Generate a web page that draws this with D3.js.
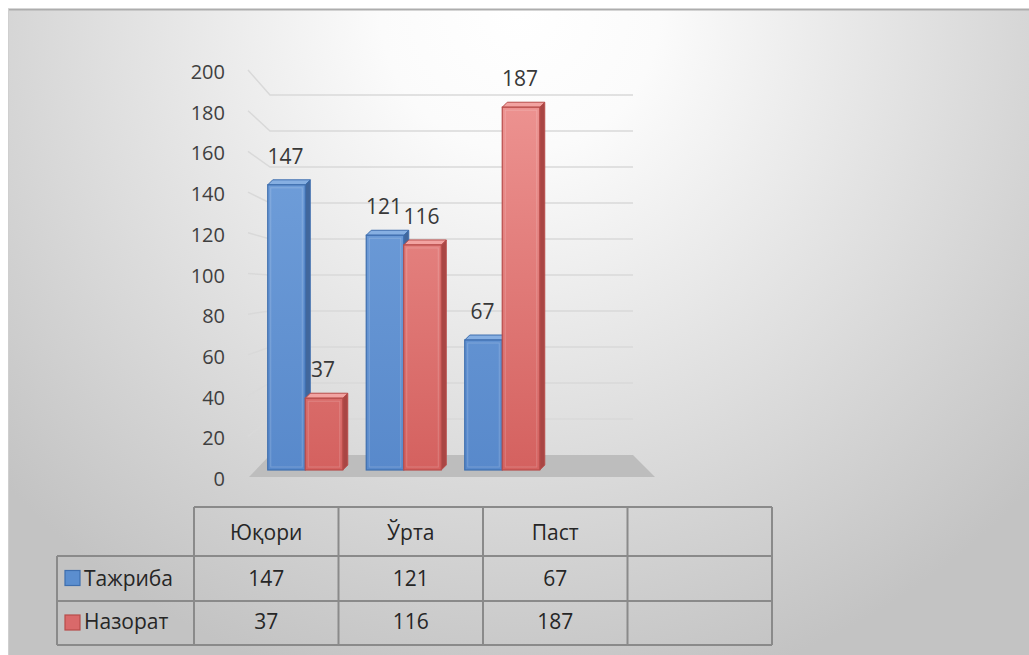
<!DOCTYPE html>
<html><head><meta charset="utf-8">
<script src="https://cdn.jsdelivr.net/npm/d3@7"></script>
<style>
body{margin:0;background:#fff;}
svg{display:block;font-family:"Open Sans","Noto Sans",sans-serif;}
</style>
</head><body>
<svg id="c" width="1029" height="655"></svg>
<script>
// ---- data ----
const categories = ["Юқори", "Ўрта", "Паст", ""];
const seriesNames = ["Тажриба", "Назорат"];
const tajriba = [147, 121, 67, null];
const nazorat = [37, 116, 187, null];
const yTicks = [0, 20, 40, 60, 80, 100, 120, 140, 160, 180, 200];

// ---- styles ----
const seriesStyle = {
  "Тажриба": {id: "gb", light: "#75a3dd", dark: "#5889cb", key: "#5b8ecf", stroke: "#3e6eae", side: "#41679c", top: "#86afe2"},
  "Назорат": {id: "gr", light: "#ee9593", dark: "#d4615f", key: "#d9696a", stroke: "#b84c4a", side: "#a94644", top: "#f2a3a1"}
};
const seriesValues = {"Тажриба": tajriba, "Назорат": nazorat};

const svg = d3.select("#c");
const defs = svg.append("defs");
const rg = defs.append("radialGradient").attr("id", "bg")
  .attr("gradientUnits", "userSpaceOnUse")
  .attr("cx", 520).attr("cy", 10).attr("r", 700);
rg.append("stop").attr("offset", 0).attr("stop-color", "#ffffff");
rg.append("stop").attr("offset", 0.2).attr("stop-color", "#fbfbfb");
rg.append("stop").attr("offset", 1).attr("stop-color", "#c3c3c3");

// ---- scales ----
const yBar = d3.scaleLinear().domain([0, 200]).range([470, 82]);
const yBack = d3.scaleLinear().domain([0, 200]).range([455, 95]);
const yFront = d3.scaleLinear().domain([0, 200]).range([477, 70]);
const xBand = d3.scaleBand().domain(categories).range([256, 650]).padding(0);
const xInner = d3.scaleBand().domain(seriesNames).range([0, xBand.bandwidth()])
  .paddingInner(0).paddingOuter(0.313);
const backLeft = 270, backRight = 633, frontLeft = 249, frontRight = 655, sideX = 248;
const depth = 5;

seriesNames.forEach(s => {
  const st = seriesStyle[s];
  const lg = defs.append("linearGradient").attr("id", st.id)
    .attr("gradientUnits", "userSpaceOnUse")
    .attr("x1", 0).attr("x2", 0).attr("y1", yBar(200)).attr("y2", yBar(0));
  lg.append("stop").attr("offset", 0).attr("stop-color", st.light);
  lg.append("stop").attr("offset", 1).attr("stop-color", st.dark);
});

// background frame
svg.append("rect").attr("x", 8).attr("y", 9).attr("width", 1021).attr("height", 646)
  .attr("fill", "url(#bg)");
svg.append("line").attr("x1", 8).attr("x2", 1029).attr("y1", 9.5).attr("y2", 9.5)
  .attr("stroke", "#adadad").attr("stroke-width", 2);
svg.append("line").attr("x1", 8.5).attr("x2", 8.5).attr("y1", 9).attr("y2", 655)
  .attr("stroke", "#cfcfcf").attr("stroke-width", 1);

// floor
svg.append("polygon")
  .attr("points", [[frontLeft, yFront(0)], [frontRight, yFront(0)], [backRight, yBack(0)], [backLeft, yBack(0)]].join(" "))
  .attr("fill", "#bdbdbd");

// gridlines (side wall diagonal + back wall)
const grid = svg.append("g").attr("stroke", "#d9d9d9").attr("stroke-width", 1.5).attr("fill", "none");
yTicks.filter(v => v > 0).forEach(v => {
  grid.append("polyline")
    .attr("points", [[sideX, yFront(v)], [backLeft, yBack(v)], [backRight, yBack(v)]].join(" "));
});

// y axis labels
svg.append("g").selectAll("text").data(yTicks).join("text")
  .attr("x", 225).attr("y", d => yFront(d) + 9)
  .attr("text-anchor", "end").attr("font-size", 20).attr("fill", "#3f3f3f")
  .text(d => d);

// data labels (drawn under bars like the original)
const barData = [];
categories.forEach((c, i) => {
  seriesNames.forEach(s => {
    const v = seriesValues[s][i];
    if (v != null) barData.push({c, s, v});
  });
});
svg.append("g").selectAll("text").data(barData).join("text")
  .attr("x", d => xBand(d.c) + xInner(d.s) + xInner.bandwidth() / 2 - 1)
  .attr("y", d => yBar(d.v) - 21)
  .attr("text-anchor", "middle").attr("font-size", 21).attr("fill", "#383838")
  .text(d => d.v);

// bars
const bars = svg.append("g");
barData.forEach(d => {
  const x = xBand(d.c) + xInner(d.s), w = xInner.bandwidth();
  const top = yBar(d.v), bot = yBar(0);
  const st = seriesStyle[d.s];
  const g = bars.append("g");
  g.append("polygon")
    .attr("points", [[x + w, top], [x + w + depth, top - depth], [x + w + depth, bot - depth], [x + w, bot]].join(" "))
    .attr("fill", st.side).attr("stroke", st.stroke).attr("stroke-width", 1);
  g.append("polygon")
    .attr("points", [[x, top], [x + depth, top - depth], [x + w + depth, top - depth], [x + w, top]].join(" "))
    .attr("fill", st.top).attr("stroke", st.stroke).attr("stroke-width", 1);
  g.append("rect").attr("x", x).attr("y", top).attr("width", w).attr("height", bot - top)
    .attr("fill", `url(#${st.id})`).attr("stroke", st.stroke).attr("stroke-width", 1.2);
  g.append("rect").attr("x", x + 3).attr("y", top + 3).attr("width", Math.max(0, w - 6)).attr("height", Math.max(0, bot - top - 6))
    .attr("fill", "none").attr("stroke", "#ffffff").attr("stroke-opacity", 0.18).attr("stroke-width", 1);
});

// ---- data table ----
const tCol = d3.scaleBand().domain(categories).range([194, 772]);
const rowY = [507, 556, 601, 645];
const legendLeft = 57;
const tbl = svg.append("g");
const lineStyle = sel => sel.attr("stroke", "#8a8a8a").attr("stroke-width", 2);
lineStyle(tbl.append("line").attr("x1", tCol.range()[0]).attr("x2", tCol.range()[1]).attr("y1", rowY[0]).attr("y2", rowY[0]));
rowY.slice(1).forEach(y => lineStyle(tbl.append("line").attr("x1", legendLeft).attr("x2", tCol.range()[1]).attr("y1", y).attr("y2", y)));
lineStyle(tbl.append("line").attr("x1", legendLeft).attr("x2", legendLeft).attr("y1", rowY[1]).attr("y2", rowY[3]));
categories.forEach(c => lineStyle(tbl.append("line").attr("x1", tCol(c)).attr("x2", tCol(c)).attr("y1", rowY[0]).attr("y2", rowY[3])));
lineStyle(tbl.append("line").attr("x1", tCol.range()[1]).attr("x2", tCol.range()[1]).attr("y1", rowY[0]).attr("y2", rowY[3]));

// header
tbl.selectAll("text.h").data(categories).join("text").attr("class", "h")
  .attr("x", c => tCol(c) + tCol.bandwidth() / 2).attr("y", 540)
  .attr("text-anchor", "middle").attr("font-size", 21).attr("fill", "#262626")
  .text(c => c);

// rows
seriesNames.forEach((s, r) => {
  const yb = [586, 629][r];
  const yc = (rowY[r + 1] + rowY[r + 2]) / 2;
  tbl.append("rect").attr("x", 65).attr("y", yc - 8).attr("width", 15).attr("height", 15)
    .attr("fill", seriesStyle[s].key).attr("stroke", seriesStyle[s].stroke).attr("stroke-width", 1.2);
  tbl.append("text").attr("x", 84).attr("y", yb).attr("font-size", 21).attr("fill", "#262626").text(s);
  categories.forEach((c, i) => {
    const v = seriesValues[s][i];
    tbl.append("text").attr("x", tCol(c) + tCol.bandwidth() / 2).attr("y", yb)
      .attr("text-anchor", "middle").attr("font-size", 21).attr("fill", "#262626")
      .text(v == null ? "" : v);
  });
});
</script>
</body></html>
